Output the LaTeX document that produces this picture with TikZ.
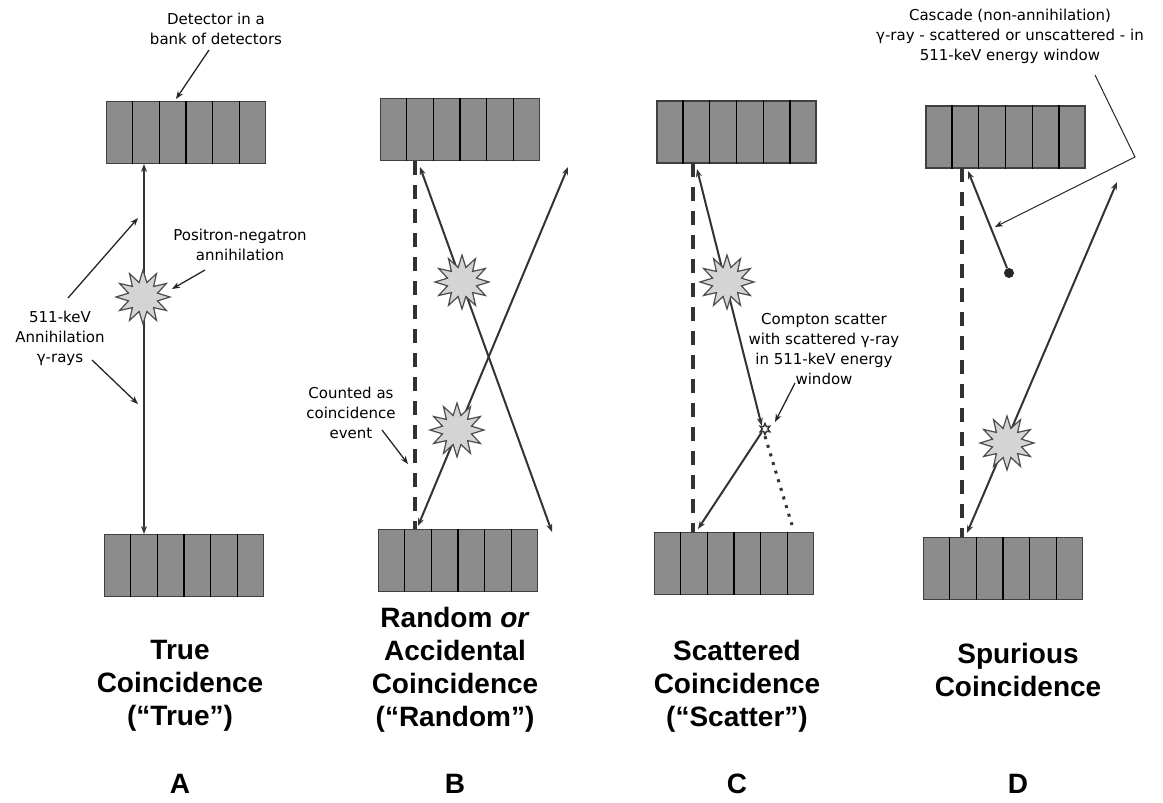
\documentclass[tikz,border=0pt]{standalone}
\usepackage{fontspec}
\setmainfont{Liberation Sans}
\newfontfamily\lblfont{DejaVu Sans}
\usetikzlibrary{arrows.meta,shapes.geometric,calc}

\definecolor{detgray}{gray}{0.55}
\definecolor{burstgray}{gray}{0.83}
\definecolor{inkgray}{gray}{0.2}

% a bank of six detector elements
\newcommand\detbank[2]{%
  \node[detbox] (#1) at (#2) {};
  \foreach \k in {1,...,5}
    \draw[divider] ($(#1.north west)!{\k/6}!(#1.north east)$) -- ($(#1.south west)!{\k/6}!(#1.south east)$);
}

\begin{document}
\begin{tikzpicture}[x=1pt,y=-1pt,
  >={Stealth[length=8pt,width=6pt]},
  detbox/.style={draw=black!75, line width=1.4pt, fill=detgray, minimum width=159pt, minimum height=62pt, inner sep=0pt},
  divider/.style={draw=black, line width=1.4pt},
  ray/.style={draw=inkgray, line width=2pt},
  dashray/.style={draw=inkgray, line width=3.5pt, dash pattern=on 14pt off 10pt},
  dotray/.style={draw=inkgray, line width=3pt, dash pattern=on 3pt off 6pt},
  burst/.style={star, star points=12, star point ratio=1.8, minimum size=54pt, draw=black!70, line width=1.2pt, fill=burstgray, inner sep=0pt},
  lbl/.style={font=\lblfont\fontsize{15}{20}\selectfont, align=center, inner sep=0pt},
  lblarrow/.style={draw=black!85, line width=1.3pt, ->},
  thinline/.style={draw=black!85, line width=1pt},
  title/.style={font=\bfseries\fontsize{28}{33}\selectfont, align=center, inner sep=0pt},
]
\useasboundingbox (0,0) rectangle (1163,803);

% ---------------- detector banks ----------------
\detbank{atop}{186,132.5}
\detbank{abot}{184,565.5}
\detbank{btop}{460,129.5}
\detbank{bbot}{458,560.5}
\detbank{ctop}{736.5,132}
\detbank{cbot}{734,563.5}
\detbank{dtop}{1005.5,137}
\detbank{dbot}{1003,568.5}

% ---------------- A: true coincidence ----------------
\coordinate (a1) at (144,164);
\coordinate (a2) at (144,534);
\draw[ray,<->] (a1) -- (a2);
\node[burst] (sa) at (143,297) {};

\node[lbl] (ldet) at (216,29) {Detector in a\\bank of detectors};
\coordinate (ldet1) at (209,50);
\coordinate (ldet2) at (176,99);
\draw[lblarrow] (ldet1) -- (ldet2);

\node[lbl] (lpos) at (240,245) {Positron-negatron\\annihilation};
\coordinate (lpos1) at (205,270);
\coordinate (lpos2) at (172,289);
\draw[lblarrow] (lpos1) -- (lpos2);

\node[lbl] (lgam) at (60,338) {511-keV\\Annihilation\\γ-rays};
\coordinate (lgam1) at (68,298);
\coordinate (lgam2) at (138,218);
\coordinate (lgam3) at (92,360);
\coordinate (lgam4) at (138,404);
\draw[lblarrow] (lgam1) -- (lgam2);
\draw[lblarrow] (lgam3) -- (lgam4);

% ---------------- B: random coincidence ----------------
\coordinate (bd1) at (415,161);
\coordinate (bd2) at (415,529);
\draw[dashray] (bd1) -- (bd2);
\coordinate (b1) at (420,167);
\coordinate (b2) at (552,532);
\coordinate (b3) at (568,167);
\coordinate (b4) at (418,526);
\draw[ray,<->] (b1) -- (b2);
\draw[ray,<->] (b3) -- (b4);
\node[burst] (sb1) at (462,282) {};
\node[burst] (sb2) at (457,430) {};

\node[lbl] (lcnt) at (351,413) {Counted as\\coincidence\\event};
\coordinate (lcnt1) at (382,430);
\coordinate (lcnt2) at (408,464);
\draw[lblarrow] (lcnt1) -- (lcnt2);

% ---------------- C: scattered coincidence ----------------
\coordinate (cd1) at (693,163);
\coordinate (cd2) at (693,532);
\draw[dashray] (cd1) -- (cd2);
\node[star, star points=6, star point ratio=2, minimum size=11pt, draw=inkgray, line width=1.4pt, fill=white, inner sep=0pt] (sc) at (765,429) {};
\coordinate (c1) at (697,169);
\draw[ray,<->] (c1) -- (sc.north west);
\coordinate (c2) at (698,529);
\draw[ray,->] (sc.south west) -- (c2);
\coordinate (c3) at (792,525);
\draw[dotray] (sc.south) -- (c3);
\node[burst] (scb) at (727,282) {};

\node[lbl] (lcmp) at (824,349) {Compton scatter\\with scattered γ-ray\\in 511-keV energy\\window};
\coordinate (lcmp1) at (795,383);
\coordinate (lcmp2) at (775,422);
\draw[lblarrow] (lcmp1) -- (lcmp2);

% ---------------- D: spurious coincidence ----------------
\coordinate (dd1) at (962,168);
\coordinate (dd2) at (962,537);
\draw[dashray] (dd1) -- (dd2);
\coordinate (d1) at (1117,182);
\coordinate (d2) at (967,533);
\draw[ray,<->] (d1) -- (d2);
\node[burst] (sd) at (1007,443) {};
\node[circle, fill=black!85, minimum size=10pt, inner sep=0pt] (cdot) at (1009,273) {};
\coordinate (d3) at (968,171);
\draw[ray,->] (cdot) -- (d3);

\node[lbl] (lcas) at (1010,36) {Cascade (non-annihilation)\\γ-ray - scattered or unscattered - in\\511-keV energy window};
\coordinate (lcas1) at (1095,75);
\coordinate (lcas2) at (1135,157);
\coordinate (lcas3) at (995,227);
\draw[thinline,->] (lcas1) -- (lcas2) -- (lcas3);

% ---------------- captions ----------------
\node[title] (ta) at (180,686) {True\\Coincidence\\(“True”)};
\node[title] (tb) at (455,670) {Random \textit{or}\\Accidental\\Coincidence\\(“Random”)};
\node[title] (tc) at (737,686) {Scattered\\Coincidence\\(“Scatter”)};
\node[title] (td) at (1018,670) {Spurious\\Coincidence};

\node[title] (pa) at (180,784) {A};
\node[title] (pb) at (455,784) {B};
\node[title] (pc) at (737,784) {C};
\node[title] (pd) at (1018,784) {D};
\end{tikzpicture}
\end{document}
